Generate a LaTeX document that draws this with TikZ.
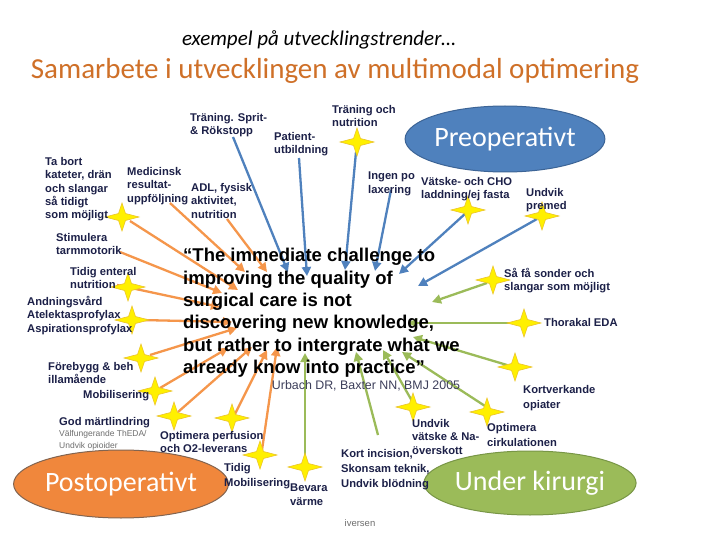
\documentclass[tikz,border=0pt]{standalone}
\usepackage{fontspec}
\setmainfont{Liberation Sans}
\newfontfamily\calibri{Carlito}
\usetikzlibrary{shapes.geometric,arrows.meta}
\definecolor{arrblue}{RGB}{79,129,189}
\definecolor{arrgreen}{RGB}{155,187,89}
\definecolor{arrorange}{RGB}{245,150,75}
\definecolor{titleorange}{RGB}{207,112,40}
\definecolor{navy}{RGB}{28,32,72}
\definecolor{staryellow}{RGB}{255,240,0}
\definecolor{staredge}{RGB}{235,195,40}
\definecolor{citegray}{RGB}{60,62,90}
\definecolor{subgray}{RGB}{110,110,110}
\definecolor{preblue}{RGB}{79,129,189}
\definecolor{preedge}{RGB}{60,100,150}
\definecolor{postorange}{RGB}{240,135,60}
\definecolor{postedge}{RGB}{130,100,80}
\definecolor{undgreen}{RGB}{155,187,89}
\definecolor{undedge}{RGB}{120,150,70}
\tikzset{
  lbl/.style={anchor=north west, inner sep=0pt, align=left, text=navy,
    font=\fontsize{11.2}{13.4}\selectfont\bfseries},
  lblwide/.style={lbl, font=\fontsize{11.2}{15}\selectfont\bfseries},
  arr/.style={line width=2.3pt, -{Triangle[length=9pt,width=9pt]}},
  barr/.style={arr, draw=arrblue},
  garr/.style={arr, draw=arrgreen},
  oarr/.style={arr, draw=arrorange},
  phase/.style={ellipse, inner sep=0pt, text=white, line width=1pt,
    font=\calibri\fontsize{28}{30}\selectfont},
  star4/.pic={\filldraw[fill=staryellow, draw=staredge, line width=0.6pt]
    (-17,0) -- (-3.5,-3.5) -- (0,-14) -- (3.5,-3.5) -- (17,0) -- (3.5,3.5)
    -- (0,14) -- (-3.5,3.5) -- cycle;}
}
\begin{document}
\begin{tikzpicture}[x=1pt,y=-1pt]
\useasboundingbox (0,0) rectangle (720,540);
\fill[white] (0,0) rectangle (720,540);

% titles
\node (t1) at (319,40) {\calibri\itshape\fontsize{21}{25}\selectfont exempel på utvecklingstrender…};
\node[text=titleorange] (t2) at (335,71) {\calibri\fontsize{29}{32}\selectfont Samarbete i utvecklingen av multimodal optimering};

% phase ellipses
\node[phase, fill=preblue, draw=preedge, minimum width=186pt, minimum height=66pt] (pre) at (505,139) {Preoperativt};
\node[phase, fill=postorange, draw=postedge, minimum width=190pt, minimum height=68pt] (post) at (121,484) {Postoperativt};
\node[phase, fill=undgreen, draw=undedge, minimum width=188pt, minimum height=64pt] (under) at (530,483) {Under kirurgi};

% arrow start / end coordinates
% blue
\coordinate (b1s) at (233,137); \coordinate (b1e) at (288,272);
\coordinate (b2s) at (299,158); \coordinate (b2e) at (307,276);
\coordinate (b3s) at (356,152); \coordinate (b3e) at (345,270);
\coordinate (b4s) at (391,190); \coordinate (b4e) at (375,271);
\coordinate (b5s) at (466,213); \coordinate (b5e) at (399,274);
\coordinate (b6s) at (537,219); \coordinate (b6e) at (418,286);
% green
\coordinate (g1s) at (487,283); \coordinate (g1e) at (432,302);
\coordinate (g2s) at (516,323); \coordinate (g2e) at (408,323);
\coordinate (g3s) at (507,365); \coordinate (g3e) at (413,337);
\coordinate (g4s) at (485,406); \coordinate (g4e) at (402,352);
\coordinate (g5s) at (412,401); \coordinate (g5e) at (383,350);
\coordinate (g6s) at (378,435); \coordinate (g6e) at (356,352);
\coordinate (g7s) at (305,460); \coordinate (g7e) at (305,353);
% orange
\coordinate (o1s) at (170,203); \coordinate (o1e) at (245,272);
\coordinate (o2s) at (227,219); \coordinate (o2e) at (267,272);
\coordinate (o3s) at (130,221); \coordinate (o3e) at (238,290);
\coordinate (o4s) at (120,252); \coordinate (o4e) at (222,293);
\coordinate (o5s) at (117,285); \coordinate (o5e) at (220,307);
\coordinate (o6s) at (140,320); \coordinate (o6e) at (232,322);
\coordinate (o7s) at (150,355); \coordinate (o7e) at (237,328);
\coordinate (o8s) at (160,388); \coordinate (o8e) at (228,348);
\coordinate (o9s) at (178,412); \coordinate (o9e) at (252,347);
\coordinate (o10s) at (235,414); \coordinate (o10e) at (267,350);
\coordinate (o11s) at (262,450); \coordinate (o11e) at (277,347);

\draw[barr] (b1s) -- (b1e);
\draw[barr] (b2s) -- (b2e);
\draw[barr] (b3s) -- (b3e);
\draw[barr] (b4s) -- (b4e);
\draw[barr] (b5s) -- (b5e);
\draw[barr] (b6s) -- (b6e);
\draw[garr] (g1s) -- (g1e);
\draw[garr] (g2s) -- (g2e);
\draw[garr] (g3s) -- (g3e);
\draw[garr] (g4s) -- (g4e);
\draw[garr] (g5s) -- (g5e);
\draw[garr] (g6s) -- (g6e);
\draw[garr] (g7s) -- (g7e);
\draw[oarr] (o1s) -- (o1e);
\draw[oarr] (o2s) -- (o2e);
\draw[oarr] (o3s) -- (o3e);
\draw[oarr] (o4s) -- (o4e);
\draw[oarr] (o5s) -- (o5e);
\draw[oarr] (o6s) -- (o6e);
\draw[oarr] (o7s) -- (o7e);
\draw[oarr] (o8s) -- (o8e);
\draw[oarr] (o9s) -- (o9e);
\draw[oarr] (o10s) -- (o10e);
\draw[oarr] (o11s) -- (o11e);

% stars
\foreach \n/\sx/\sy in {stabort/122/217, stn/357/142, svat/468/210,
  sprem/542/216, stid/128/287, sand/132/320, sfore/141/358,
  smob/155/391, sgod/174/416, sperf/232/418, stmob/260/455,
  svarme/305/467, suvat/413/407, scirk/487/412, skort/515/367,
  sthor/524/323, ssa/493/280}
  {\coordinate (\n) at (\sx,\sy); \pic at (\sx,\sy) {star4};}

% quote
\node[anchor=north west, inner sep=0pt, align=left,
  font=\fontsize{18.5}{22.4}\selectfont\bfseries] (quote) at (183,248)
  {“The immediate challenge to\\improving the quality of\\surgical care is not\\discovering new knowledge,\\but rather to intergrate what we\\already know into practice”};
\node[text=citegray, font=\fontsize{12.4}{14}\selectfont] (cite) at (366,386) {Urbach DR, Baxter NN, BMJ 2005};

% labels
\node[lbl] (ltsr) at (190,113) {Träning. Sprit-\\\& Rökstopp};
\node[lbl] (lpat) at (274,132) {Patient-\\utbildning};
\node[lbl] (ltn) at (332,105) {Träning och\\nutrition};
\node[lbl] (lingen) at (368,172) {Ingen po\\laxering};
\node[lbl] (lvat) at (421,177) {Vätske- och CHO\\laddning/ej fasta};
\node[lbl] (lprem) at (526,188) {Undvik\\premed};
\node[lbl] (ltabort) at (45,157) {Ta bort\\kateter, drän\\och slangar\\så tidigt\\som möjligt};
\node[lbl] (lmed) at (127,167) {Medicinsk\\resultat-\\uppföljning};
\node[lbl] (ladl) at (191,183) {ADL, fysisk\\aktivitet,\\nutrition};
\node[lbl] (lstim) at (56,233) {Stimulera\\tarmmotorik};
\node[lbl] (ltid) at (70,267) {Tidig enteral\\nutrition};
\node[lbl] (land) at (27,296) {Andningsvård\\Atelektasprofylax\\Aspirationsprofylax};
\node[lbl] (lfore) at (48,362) {Förebygg \& beh\\illamående};
\node[lbl] (lmob) at (83,390) {Mobilisering};
\node[lbl] (lgod) at (59,417) {God märtlindring};
\node[anchor=north west, inner sep=0pt, align=left, text=subgray,
  font=\fontsize{8.5}{12}\selectfont] (lgodsub) at (59,430) {Välfungerande ThEDA/\\Undvik opioider};
\node[lbl] (lperf) at (160,431) {Optimera perfusion\\och O2-leverans};
\node[lblwide] (ltmob) at (224,463) {Tidig\\Mobilisering};
\node[lbl] (lvarme) at (290,484) {Bevara\\värme};
\node[lblwide] (lkort) at (341,449) {Kort incision,\\Skonsam teknik,\\Undvik blödning};
\node[lbl] (luvat) at (412,419) {Undvik\\vätske \& Na-\\överskott};
\node[lblwide] (lcirk) at (487,423) {Optimera\\cirkulationen};
\node[lblwide] (lkortv) at (523,385) {Kortverkande\\opiater};
\node[lbl] (lthor) at (544,318) {Thorakal EDA};
\node[lbl] (lsa) at (504,268) {Så få sonder och\\slangar som möjligt};

\node[text=subgray, font=\fontsize{9.5}{11}\selectfont] (iv) at (360,523) {iversen};
\end{tikzpicture}
\end{document}
